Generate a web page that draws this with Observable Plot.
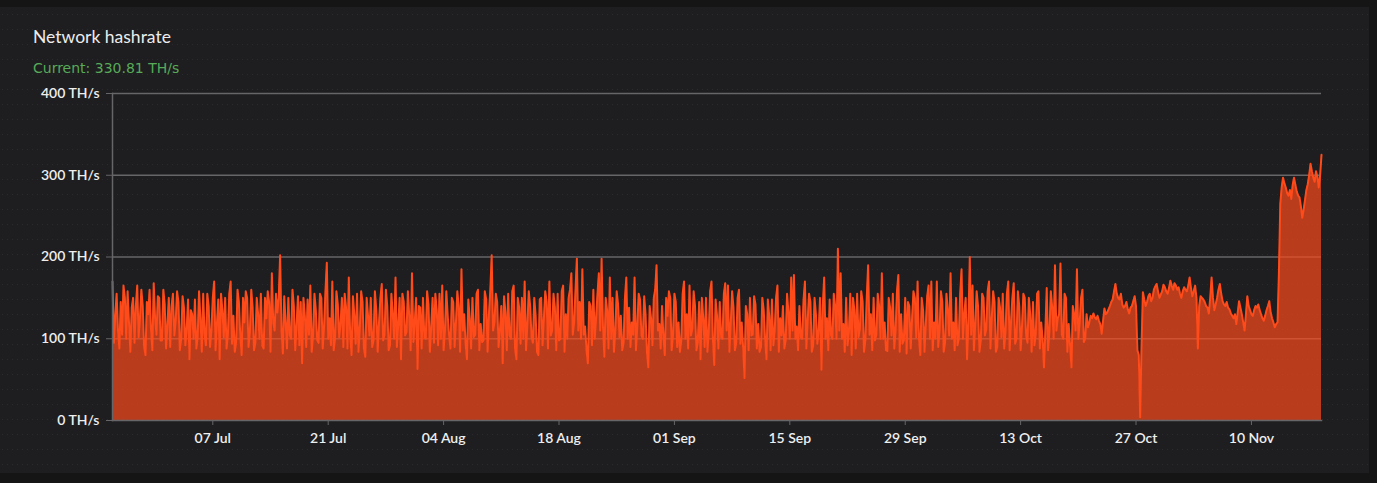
<!DOCTYPE html>
<html>
<head>
<meta charset="utf-8">
<script src="https://cdn.jsdelivr.net/npm/d3@7"></script>
<script src="https://cdn.jsdelivr.net/npm/@observablehq/plot@0.6"></script>
<style>
  html, body { margin: 0; padding: 0; background: #151515; width: 1377px; height: 483px; overflow: hidden; }
  #card {
    position: absolute; left: 0; top: 7px; width: 1369px; height: 466px;
    background-color: #1e1e20;
    background-image: radial-gradient(circle, rgba(255,255,255,0.06) 0.7px, transparent 1px);
    background-size: 5px 15px;
  }
  #title {
    position: absolute; left: 33px; top: 28px; margin: 0;
    font-family: Lato, "Open Sans", sans-serif; font-size: 17.5px; line-height: 17px;
    color: #ececec; font-weight: normal;
  }
  #subtitle {
    position: absolute; left: 33px; top: 61px; margin: 0;
    font-family: "DejaVu Sans", Verdana, sans-serif; font-size: 14px; line-height: 14px;
    color: #58aa58;
  }
  #chart { position: absolute; left: 0; top: 80px; }
</style>
</head>
<body>
<div id="card"></div>
<div id="title">Network hashrate</div>
<div id="subtitle">Current: 330.81 TH/s</div>
<div id="chart"></div>
<script>
// Sampling: one reading every 4 hours starting at this time (UTC)
const startTime = "2023-06-24T20:00:00Z";
const stepHours = 4;

// Hashrate readings in TH/s
const hashrate = [
  170,95, 128,155, 110,88, 145,105, 165,150, 100,158, 120,84, 138,150, 95,140, 165,102,
  125,160, 140,90, 80,145, 130,160, 112,86, 168,125, 105,152, 150,98, 98,160, 142,88,
  118,150, 90,140, 155,104, 122,158, 145,86, 100,152, 138,92, 112,148, 75,135, 130,100,
  148,88, 102,158, 125,84, 155,106, 92,155, 140,90, 110,150, 170,86, 118,148, 75,155,
  135,102, 150,88, 105,155, 170,94, 128,84, 96,160, 145,104, 80,150, 120,158, 150,90,
  108,160, 138,86, 95,150, 130,100, 155,92, 88,150, 125,158, 145,84, 180,120, 110,155,
  132,150, 202,110, 82,152, 120,88, 150,104, 100,160, 140,86, 118,152, 92,145, 70,150,
  128,90, 148,105, 165,84, 105,155, 135,98, 95,155, 150,88, 115,158, 193,100, 125,92,
  170,86, 100,158, 142,102, 118,150, 90,155, 138,88, 175,105, 80,152, 130,94, 155,84,
  112,158, 145,88, 78,150, 128,104, 150,90, 98,158, 135,84, 120,150, 167,98, 105,160,
  140,86, 92,155, 130,100, 175,90, 118,150, 75,155, 145,104, 108,158, 128,86, 180,96,
  120,150, 63,140, 138,88, 150,102, 100,158, 142,84, 115,150, 95,155, 135,92, 155,100,
  165,86, 110,158, 128,104, 88,150, 145,90, 120,158, 140,84, 185,110, 130,94, 75,148,
  125,88, 150,102, 105,155, 160,86, 118,96, 98,158, 148,84, 130,160, 202,110, 120,155,
  145,90, 110,140, 70,152, 132,86, 155,104, 100,158, 165,88, 75,150, 138,94, 150,100,
  170,86, 118,158, 140,102, 95,150, 128,84, 80,148, 150,92, 125,158, 145,88, 170,104,
  110,155, 138,86, 155,98, 100,158, 165,84, 130,100, 150,160, 180,105, 120,160, 198,110,
  145,100, 185,105, 115,86, 70,145, 140,92, 160,100, 125,155, 180,110, 198,115, 78,150,
  135,88, 175,100, 150,84, 110,158, 142,102, 128,86, 95,150, 175,100, 138,90, 120,105,
  175,86, 115,155, 148,104, 100,152, 130,84, 65,140, 125,92, 150,160, 190,110, 118,88,
  140,102, 80,150, 128,158, 150,86, 105,155, 145,90, 120,84, 98,155, 170,100, 130,88,
  165,104, 112,158, 140,86, 95,145, 75,150, 125,90, 150,84, 108,158, 170,100, 68,148,
  128,88, 145,102, 100,155, 168,110, 165,84, 118,158, 138,86, 95,150, 160,94, 120,90,
  52,140, 130,86, 150,104, 105,152, 142,88, 118,84, 90,150, 135,100, 75,148, 128,86,
  148,92, 110,150, 165,84, 125,104, 140,88, 98,155, 132,100, 175,110, 178,100, 115,86,
  140,102, 100,148, 170,88, 122,155, 145,84, 92,150, 130,94, 110,150, 62,140, 175,100,
  125,86, 148,104, 100,155, 140,100, 210,110, 180,100, 118,84, 150,92, 108,155, 80,150,
  135,88, 155,102, 112,158, 145,84, 98,150, 190,105, 130,86, 150,98, 105,155, 140,100,
  180,100, 120,86, 85,150, 138,104, 155,88, 110,158, 178,84, 130,94, 98,150, 82,145,
  140,88, 125,158, 150,102, 170,100, 80,150, 135,84, 118,152, 165,100, 170,86, 120,100,
  170,90, 110,158, 145,84, 95,155, 135,104, 180,100, 120,86, 150,92, 100,155, 185,100,
  130,150, 75,120, 200,105, 165,86, 118,158, 140,84, 98,155, 150,104, 112,158, 170,88,
  125,158, 145,84, 90,150, 138,102, 155,88, 108,155, 170,86, 120,150, 168,94, 100,158,
  140,86, 115,155, 150,104, 95,150, 130,84, 145,92, 105,155, 158,88, 120,100, 65,110,
  162,86, 110,158, 138,100, 190,110, 125,130, 192,105, 100,155, 150,84, 118,92, 65,140,
  130,110, 185,100, 120,150, 160,96, 100,130, 114,120, 128,125, 131,126, 124,128, 122,118,
  106,122, 137,130, 132,136, 140,145, 148,158, 167,155, 150,148, 155,142, 138,140, 145,136,
  131,138, 140,146, 152,140, 86,80, 4,90, 157,148, 140,145, 152,155, 146,150, 160,164,
  167,158, 150,154, 158,166, 163,158, 155,162, 171,165, 160,168, 165,160, 163,155, 150,158,
  163,160, 158,165, 175,162, 152,158, 165,150, 88,140, 152,150, 148,145, 140,138, 131,150,
  175,150, 135,142, 150,160, 167,155, 146,142, 140,145, 138,136, 131,128, 125,130, 118,132,
  146,138, 130,120, 110,130, 152,140, 135,130, 128,135, 140,138, 142,135, 130,125, 122,128,
  135,140, 146,132, 125,120, 114,118, 120,180, 265,285, 297,290, 285,278, 275,282, 271,288,
  297,288, 280,275, 273,262, 248,258, 270,282, 289,300, 314,305, 297,292, 305,298, 285,300, 325
];

// Axis ticks
const yTicks = [0, 100, 200, 300, 400];
const yUnit = " TH/s";
const xTickDates = ["2023-07-07", "2023-07-21", "2023-08-04", "2023-08-18", "2023-09-01",
                    "2023-09-15", "2023-09-29", "2023-10-13", "2023-10-27", "2023-11-10"];

// Colours
const lineColor = "#ff4a1a";
const gridColor = "#666668";

const t0 = new Date(startTime);
const data = hashrate.map((v, i) => ({ date: d3.utcHour.offset(t0, i * stepHours), value: v }));
const xTicks = xTickDates.map(s => new Date(s + "T00:00:00Z"));

const chart = Plot.plot({
  width: 1377,
  height: 390,
  marginLeft: 112,
  marginRight: 56,
  marginTop: 13,
  marginBottom: 50,
  style: { background: "transparent", color: "#eeeeee", fontFamily: "Lato, sans-serif", fontSize: "14px", fontWeight: 600 },
  x: { type: "utc", domain: [data[0].date, data[data.length - 1].date] },
  y: { domain: [0, 400] },
  marks: [
    Plot.ruleY(yTicks.filter(d => d > 0), { stroke: gridColor, strokeWidth: 1.5 }),
    Plot.areaY(data, { x: "date", y: "value", fill: lineColor, fillOpacity: 0.69 }),
    Plot.lineY(data, { x: "date", y: "value", stroke: lineColor, strokeWidth: 2 }),
    Plot.frame({ anchor: "left", stroke: gridColor, strokeWidth: 1.5 }),
    Plot.frame({ anchor: "bottom", stroke: gridColor, strokeWidth: 1.5 }),
    Plot.axisY({ ticks: yTicks, tickSize: 6, tickPadding: 7, stroke: gridColor, fill: "#eeeeee",
                 tickFormat: d => d + yUnit, label: null }),
    Plot.axisX({ ticks: xTicks, tickSize: 5, tickPadding: 8, stroke: gridColor, fill: "#eeeeee",
                 tickFormat: d3.utcFormat("%d %b"), label: null })
  ]
});
document.getElementById("chart").appendChild(chart);
</script>
</body>
</html>
